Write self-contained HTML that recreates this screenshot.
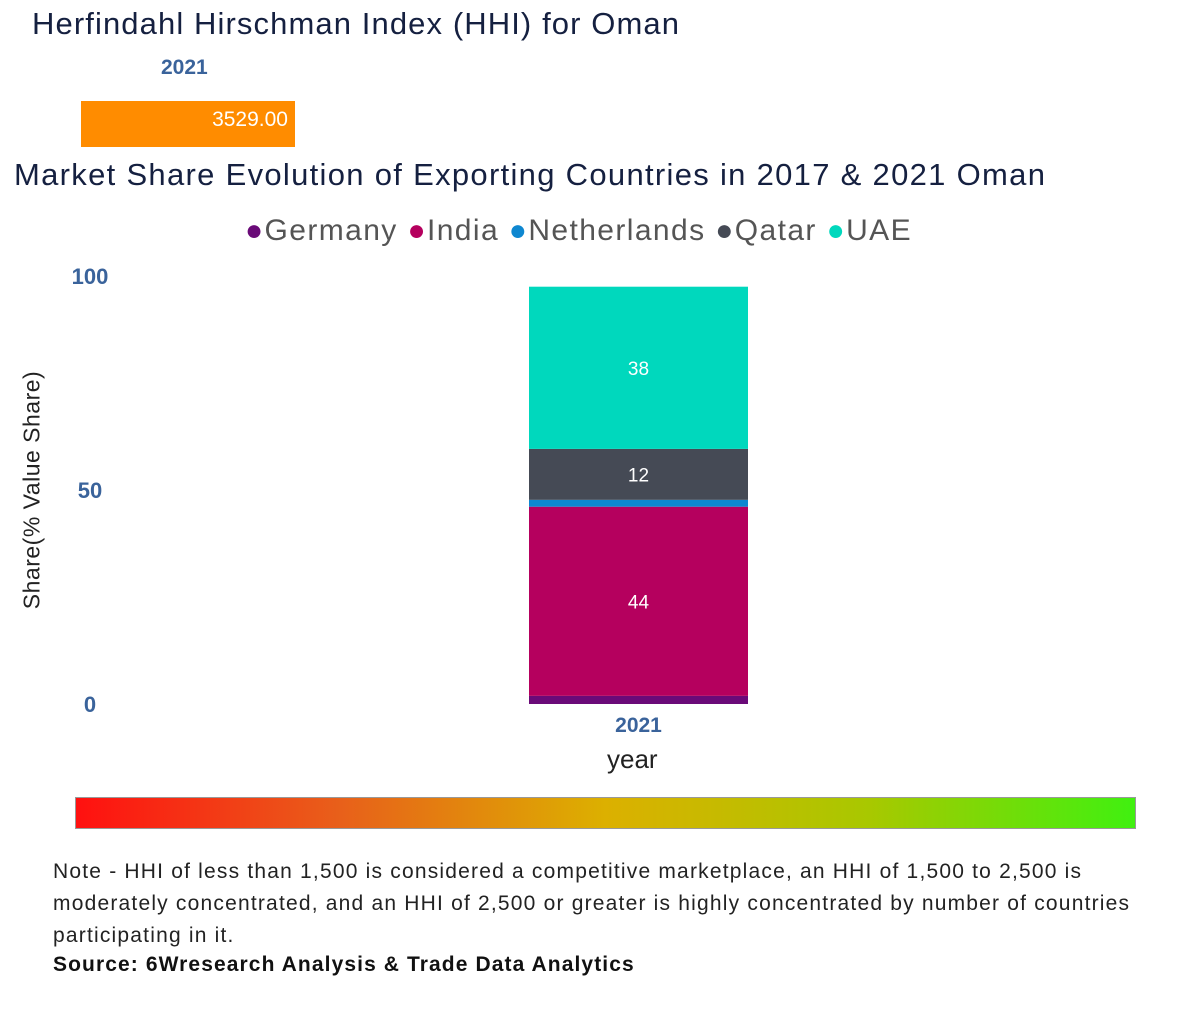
<!DOCTYPE html>
<html><head><meta charset="utf-8"><style>
body{margin:0;width:1185px;height:1021px;background:#fff;font-family:"Liberation Sans",sans-serif;position:relative;overflow:hidden}
.a{position:absolute;white-space:nowrap}
</style></head><body>
<div class="a" style="left:32px;top:6px;font-size:31px;letter-spacing:1.1px;color:#152040;">Herfindahl Hirschman Index (HHI) for Oman</div>
<div class="a" style="left:161px;top:56px;font-size:21px;font-weight:bold;color:#3a639b;">2021</div>
<div class="a" style="left:81px;top:101px;width:214px;height:46px;background:#ff8c00;"></div>
<div class="a" style="left:81px;top:108px;width:207px;text-align:right;font-size:21px;color:#fff;">3529.00</div>
<div class="a" style="left:14px;top:157px;font-size:31px;letter-spacing:1.3px;color:#152040;">Market Share Evolution of Exporting Countries in 2017 &amp; 2021 Oman</div>
<div class="a" style="left:245px;top:214px;font-size:30px;letter-spacing:1.4px;color:#555;">
<span><span style="color:#6a0a78">●</span>Germany</span>
<span><span style="color:#b5005e">●</span>India</span>
<span><span style="color:#0e87d0">●</span>Netherlands</span>
<span><span style="color:#454a55">●</span>Qatar</span>
<span><span style="color:#00d8bd">●</span>UAE</span>
</div>
<svg id="chart" class="a" style="left:0;top:0" width="1185" height="800"></svg>
<div class="a" style="left:32px;top:490px;transform:translate(-50%,-50%) rotate(-90deg);font-size:23px;letter-spacing:0.5px;color:#222;">Share(% Value Share)</div>
<div class="a" style="left:607px;top:744px;font-size:26px;color:#222;">year</div>
<div class="a" style="left:75px;top:797px;width:1059px;height:30px;border:1px solid #999;background:linear-gradient(to right,#ff1010,#e8601a 25%,#dcb000 50%,#a8c800 75%,#40f010);"></div>
<div class="a" style="left:53px;top:856px;font-size:21px;line-height:32px;letter-spacing:1.2px;color:#222;">Note - HHI of less than 1,500 is considered a competitive marketplace, an HHI of 1,500 to 2,500 is<br>moderately concentrated, and an HHI of 2,500 or greater is highly concentrated by number of countries<br>participating in it.</div>
<div class="a" style="left:53px;top:953px;font-size:21px;font-weight:bold;letter-spacing:1.1px;color:#111;">Source: 6Wresearch Analysis &amp; Trade Data Analytics</div>
<script>
const categories=["2021"];
const series=["Germany","India","Netherlands","Qatar","UAE"];
const colors=["#6a0a78","#b5005e","#0e87d0","#454a55","#00d8bd"];
const values=[[1.9],[44.2],[1.6],[11.9],[37.9]];
const yTicks=[0,50,100];
const svg=document.getElementById('chart');
const NS="http://www.w3.org/2000/svg";
const y=v=>704-v*4.28;
const x=i=>529+i*219;
function mk(t,a){const e=document.createElementNS(NS,t);for(const k in a)e.setAttribute(k,a[k]);svg.appendChild(e);return e;}
yTicks.forEach(t=>{const e=mk('text',{x:90,y:y(t)+8,'text-anchor':'middle','font-size':22,'font-weight':'bold',fill:'#3a639b'});e.textContent=t;

});
categories.forEach((c,i)=>{let base=0;
series.forEach((s,j)=>{const v=values[j][i];
const r=mk('rect',{x:x(i),y:y(base+v),width:219,height:y(base)-y(base+v),fill:colors[j]});


if(v>5){const t=mk('text',{x:x(i)+109.5,y:(y(base)+y(base+v))/2+7,'text-anchor':'middle','font-size':19,fill:'#fff'});t.textContent=Math.round(v);

}
base+=v;});
const l=mk('text',{x:x(i)+109.5,y:732,'text-anchor':'middle','font-size':21,'font-weight':'bold',fill:'#3a639b'});l.textContent=c;

});
</script>
</body></html>
